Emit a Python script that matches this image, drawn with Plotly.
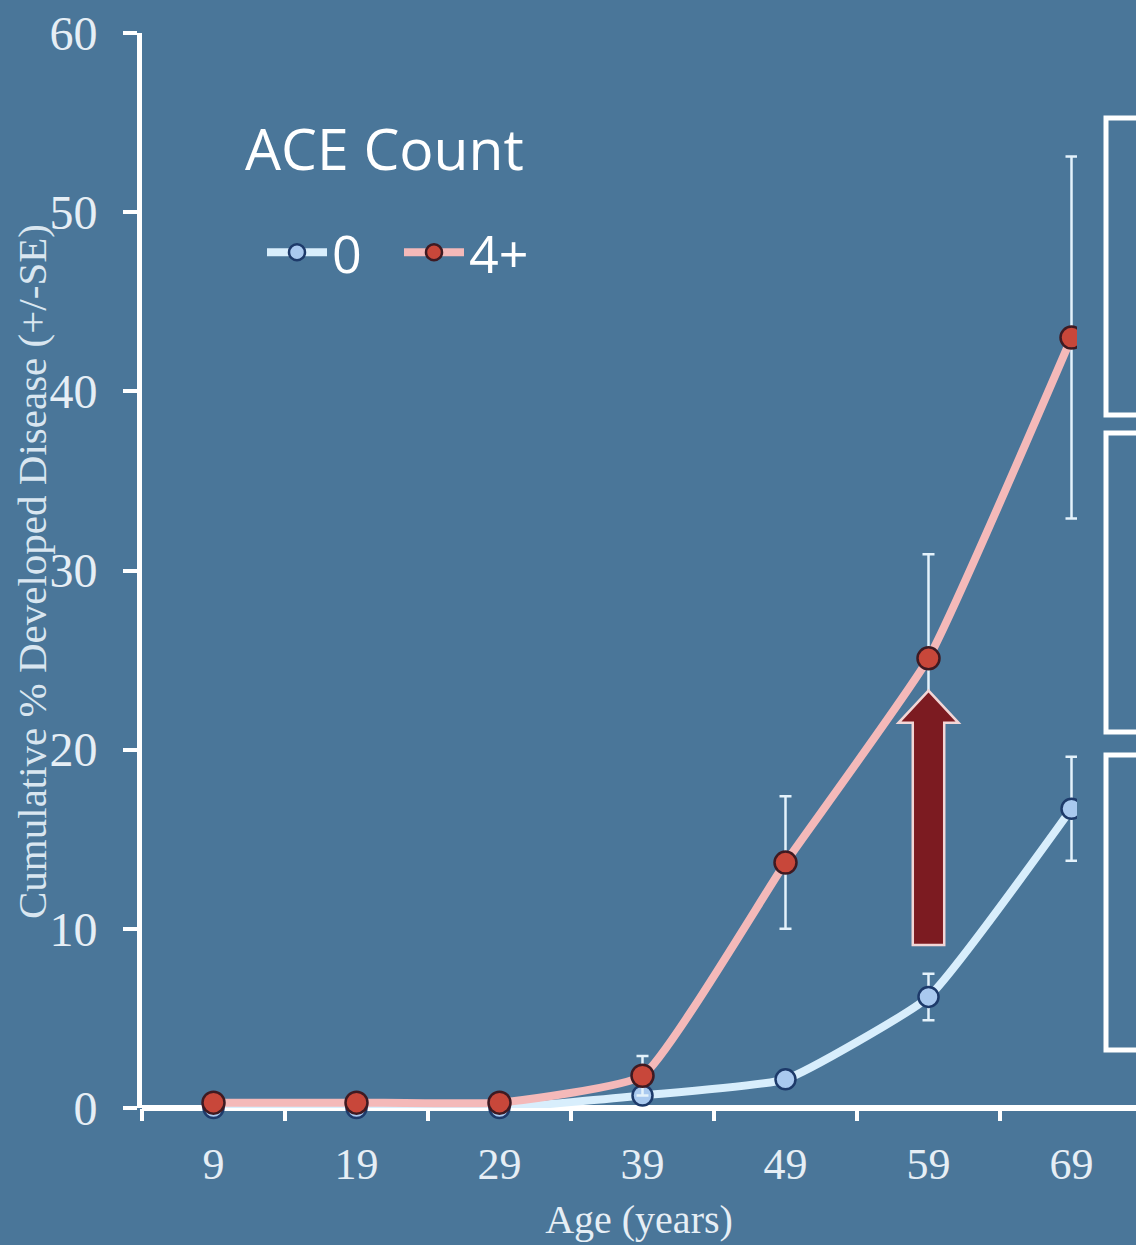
import plotly.graph_objects as go

ages = ["9", "19", "29", "39", "49", "59", "69"]
ace0 = [0.0, 0.0, 0.0, 0.7, 1.6, 6.2, 16.7]
ace0_se = [0.0, 0.0, 0.0, 0.2, 0.3, 1.3, 2.9]
ace4 = [0.3, 0.3, 0.3, 1.8, 13.7, 25.1, 43.0]
ace4_se = [0.0, 0.0, 0.0, 1.1, 3.7, 5.8, 10.1]
y_ticks = [0, 10, 20, 30, 40, 50, 60]

BG = "#4a7699"
W, H = 1136, 1245
L, R, T, B = 142, 0, 33, 137
xpos = list(range(len(ages)))

fig = go.Figure()
fig.add_trace(go.Scatter(
    x=xpos, y=ace0, name="0", mode="lines+markers", cliponaxis=False,
    line=dict(color="#d8eefc", width=8, shape="spline", smoothing=0.4),
    marker=dict(size=20, color="#a9c9ef", line=dict(color="#1d3a6a", width=2.5)),
    error_y=dict(type="data", array=ace0_se, color="#e4f2fb", thickness=2.5, width=6),
))
fig.add_trace(go.Scatter(
    x=xpos, y=ace4, name="4+", mode="lines+markers", cliponaxis=False,
    line=dict(color="#f4b9b9", width=8, shape="spline", smoothing=0.4),
    marker=dict(size=22, color="#c8473a", line=dict(color="#3e1a22", width=2.5)),
    error_y=dict(type="data", array=ace4_se, color="#e4f2fb", thickness=2.5, width=6),
))

def px_x(p):
    return (p - L) / (W - L - R)

def px_y(p):
    return (H - B - p) / (H - T - B)

shapes = []
shapes.append(dict(type="rect", xref="paper", yref="paper",
                   x0=px_x(1077), x1=1.2, y0=px_y(1103), y1=1.1,
                   fillcolor=BG, line=dict(width=0), layer="above"))
for (a, b) in [(118, 415), (433, 732), (755, 1050)]:
    shapes.append(dict(type="rect", xref="paper", yref="paper",
                       x0=px_x(1106), x1=1.2, y0=px_y(b), y1=px_y(a),
                       fillcolor="rgba(0,0,0,0)", line=dict(color="white", width=5),
                       layer="above"))
shapes.append(dict(type="path", xref="x", yref="y",
                   path="M 4.89,9.1 L 5.11,9.1 L 5.11,21.5 L 5.21,21.5 L 5.0,23.3 L 4.79,21.5 L 4.89,21.5 Z",
                   fillcolor="#7c1b21", line=dict(color="#f3d6d6", width=2.5), layer="above"))

fig.update_layout(
    width=W, height=H,
    margin=dict(l=L, r=R, t=T, b=B),
    paper_bgcolor=BG, plot_bgcolor=BG,
    showlegend=True,
    legend=dict(
        orientation="h", x=px_x(262), y=px_y(212), xanchor="left", yanchor="top",
        bgcolor="rgba(0,0,0,0)",
        font=dict(family="Open Sans", size=52, color="white"),
        itemwidth=60, entrywidth=62, tracegroupgap=0,
    ),
    shapes=shapes,
    xaxis=dict(
        range=[-0.5, (W - L) / 143 - 0.5],
        tickvals=xpos, ticktext=ages,
        ticks="", showgrid=False, zeroline=False,
        showline=False,
        tickfont=dict(family="Liberation Serif", size=44, color="#e6eef5"),
        ticklabelstandoff=26,
        minor=dict(tick0=-0.5, dtick=1, ticks="outside", ticklen=12, tickwidth=4,
                   tickcolor="white", showgrid=False),
        title=dict(text="Age (years)", standoff=16,
                   font=dict(family="Liberation Serif", size=40, color="#e6eef5")),
    ),
    yaxis=dict(
        range=[0, 60], tickvals=y_ticks,
        showline=True, linecolor="white", linewidth=5,
        ticks="outside", ticklen=14, tickwidth=4, tickcolor="white",
        showgrid=False, zeroline=True, zerolinecolor="white", zerolinewidth=6,
        tickfont=dict(family="Liberation Serif", size=48, color="#e6eef5"),
        ticklabelstandoff=16,
    ),
    annotations=[
        dict(text="Cumulative % Developed Disease (+/-SE)",
             xref="paper", yref="paper", x=px_x(32), y=px_y(572),
             xanchor="center", yanchor="middle", textangle=-90, showarrow=False,
             font=dict(family="Liberation Serif", size=41, color="#d9e6f0")),
        dict(text="ACE Count", xref="paper", yref="paper",
             x=px_x(243), y=px_y(148), xanchor="left", yanchor="middle",
             showarrow=False,
             font=dict(family="Open Sans", size=57, color="white")),
    ],
)

fig.write_html("out.html", config={"displayModeBar": False},
               post_script="document.body.style.margin='0';document.body.style.overflow='hidden';")
